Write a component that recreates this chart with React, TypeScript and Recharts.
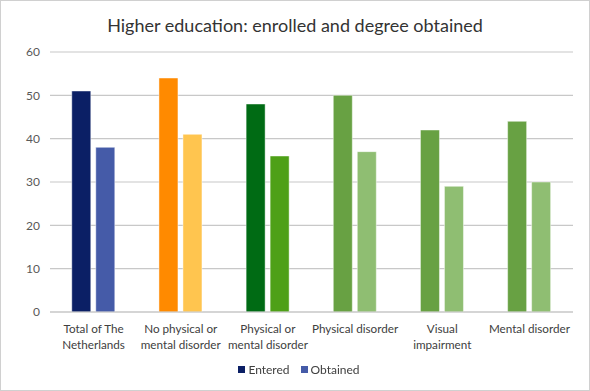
import { BarChart, Bar, Cell, XAxis, YAxis, CartesianGrid } from "recharts";

const categories = [
    "Total of The\nNetherlands",
    "No physical or\nmental disorder",
    "Physical or\nmental disorder",
    "Physical disorder",
    "Visual\nimpairment",
    "Mental disorder",
];
const entered = [51, 54, 48, 50, 42, 44];
const obtained = [38, 41, 36, 37, 29, 30];
const yTicks = [0, 10, 20, 30, 40, 50, 60];
const seriesNames = ["Entered", "Obtained"];

// per-category colours, Excel style
const enteredColors = ["#0b1f65", "#ff8a00", "#006b14", "#68a143", "#68a143", "#68a143"];
const obtainedColors = ["#455ba8", "#ffc54f", "#4ea017", "#8fbe72", "#8fbe72", "#8fbe72"];

const FONT = "Lato, 'Open Sans', sans-serif";

const data = categories.map((c, i) => ({
    name: c,
    entered: entered[i],
    obtained: obtained[i],
}));

/* eslint-disable @typescript-eslint/no-explicit-any */
const CategoryTick = ({ x, y, payload }: any) => {
    const lines = String(payload.value).split("\n");
    return (
        <text x={x} y={y} textAnchor="middle" fill="#404040" fontSize={11.7} fontFamily={FONT}>
            {lines.map((l, i) => (
                <tspan key={i} x={x} dy={i === 0 ? 13 : 15.5}>
                    {l}
                </tspan>
            ))}
        </text>
    );
};

export default function App() {
    return (
        <div
            style={{
                position: "fixed",
                left: 0,
                top: 0,
                width: 590,
                height: 391,
                boxSizing: "border-box",
                border: "1px solid #d0d0d0",
                background: "#fff",
            }}
        >
            <div
                style={{
                    position: "absolute",
                    top: 13,
                    left: 0,
                    width: "100%",
                    textAlign: "center",
                    fontSize: 18,
                    fontFamily: FONT,
                    color: "#333",
                }}
            >
                Higher education: enrolled and degree obtained
            </div>
            <BarChart
                width={588}
                height={389}
                data={data}
                margin={{ top: 51, right: 16, left: 0, bottom: 18 }}
                barCategoryGap="25%"
                barGap={5}
                style={{ position: "absolute", left: 0, top: 0 }}
            >
                <CartesianGrid vertical={false} stroke="#c8c8c8" strokeWidth={1.2} />
                <XAxis
                    dataKey="name"
                    tick={<CategoryTick />}
                    tickLine={false}
                    axisLine={{ stroke: "#c8c8c8", strokeWidth: 1.2 }}
                    interval={0}
                    height={60}
                />
                <YAxis
                    width={49}
                    domain={[0, 60]}
                    ticks={yTicks}
                    tickLine={false}
                    axisLine={false}
                    tickMargin={4}
                    tick={{ fill: "#595959", fontSize: 12, fontFamily: FONT }}
                />
                <Bar dataKey="entered" name={seriesNames[0]} fill={enteredColors[0]} isAnimationActive={false}
                    stroke="rgba(255,255,255,0.45)" strokeWidth={1}>
                    {data.map((_, i) => (
                        <Cell key={i} fill={enteredColors[i]} />
                    ))}
                </Bar>
                <Bar dataKey="obtained" name={seriesNames[1]} fill={obtainedColors[0]} isAnimationActive={false}
                    stroke="rgba(255,255,255,0.45)" strokeWidth={1}>
                    {data.map((_, i) => (
                        <Cell key={i} fill={obtainedColors[i]} />
                    ))}
                </Bar>
            </BarChart>
            {/* legend */}
            <div
                style={{
                    position: "absolute",
                    top: 361,
                    left: 4,
                    width: 588,
                    display: "flex",
                    justifyContent: "center",
                    gap: 11,
                    fontSize: 12,
                    fontFamily: FONT,
                    color: "#404040",
                }}
            >
                {seriesNames.map((n, i) => (
                    <span key={n} style={{ display: "flex", alignItems: "center", gap: 3 }}>
                        <span
                            style={{
                                width: 7,
                                height: 7,
                                background: i === 0 ? enteredColors[0] : obtainedColors[0],
                                display: "inline-block",
                            }}
                        />
                        {n}
                    </span>
                ))}
            </div>
        </div>
    );
}
